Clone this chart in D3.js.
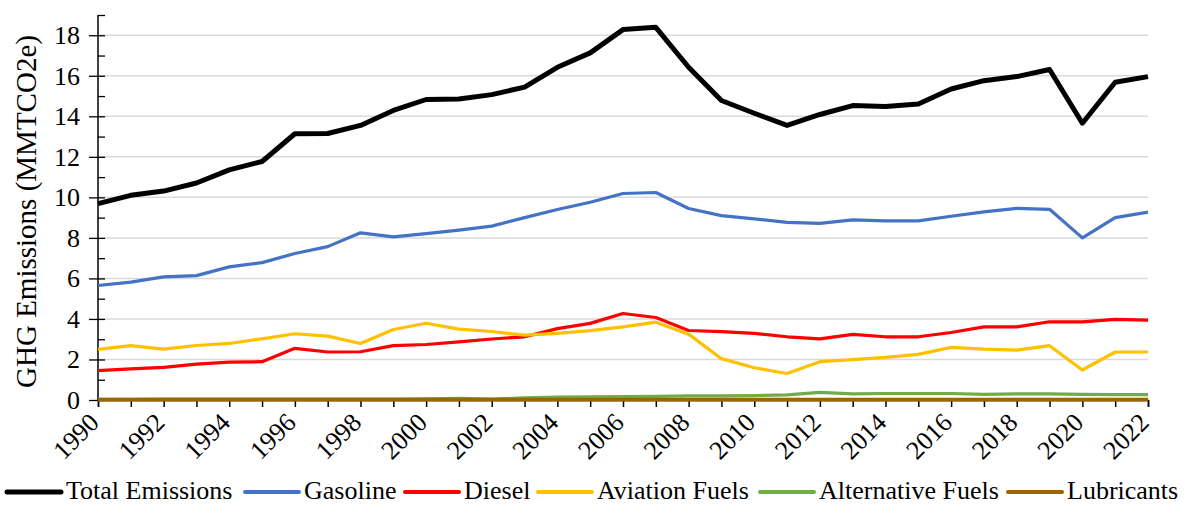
<!DOCTYPE html>
<html>
<head>
<meta charset="utf-8">
<script src="https://cdn.jsdelivr.net/npm/d3@7"></script>
<style>
  body { margin: 0; background: #fff; }
  svg text { font-family: "Liberation Serif", "Times New Roman", serif; fill: #000; }
</style>
</head>
<body>
<svg id="chart" width="1186" height="506"></svg>
<script>
const years = d3.range(1990, 2023);
const yTicks = [0, 2, 4, 6, 8, 10, 12, 14, 16, 18];
const xTickLabels = years.filter(y => y % 2 === 0).map(String);

const totalEmissions = [9.69, 10.10, 10.31, 10.71, 11.36, 11.77, 13.14, 13.15, 13.55, 14.29, 14.83, 14.85, 15.07, 15.44, 16.42, 17.13, 18.28, 18.39, 16.42, 14.78, 14.15, 13.55, 14.09, 14.53, 14.48, 14.61, 15.35, 15.76, 15.96, 16.31, 13.66, 15.68, 15.96];
const gasoline = [5.65, 5.82, 6.08, 6.14, 6.57, 6.78, 7.23, 7.57, 8.25, 8.05, 8.21, 8.38, 8.58, 9.00, 9.40, 9.76, 10.19, 10.24, 9.45, 9.10, 8.94, 8.77, 8.72, 8.89, 8.84, 8.84, 9.07, 9.28, 9.46, 9.41, 8.00, 9.00, 9.27];
const diesel = [1.45, 1.54, 1.61, 1.77, 1.87, 1.89, 2.55, 2.37, 2.38, 2.68, 2.74, 2.87, 3.01, 3.12, 3.52, 3.78, 4.27, 4.07, 3.43, 3.37, 3.29, 3.12, 3.02, 3.24, 3.12, 3.12, 3.33, 3.61, 3.61, 3.86, 3.86, 3.98, 3.94];
const aviationFuels = [2.50, 2.68, 2.51, 2.69, 2.79, 3.02, 3.27, 3.15, 2.79, 3.48, 3.79, 3.50, 3.38, 3.20, 3.29, 3.42, 3.61, 3.84, 3.25, 2.04, 1.59, 1.31, 1.89, 1.99, 2.10, 2.25, 2.60, 2.51, 2.46, 2.68, 1.48, 2.37, 2.37];
const alternativeFuels = [0.03, 0.03, 0.04, 0.04, 0.04, 0.04, 0.04, 0.04, 0.05, 0.05, 0.06, 0.08, 0.05, 0.10, 0.14, 0.15, 0.17, 0.18, 0.20, 0.20, 0.22, 0.25, 0.38, 0.30, 0.32, 0.32, 0.32, 0.28, 0.30, 0.30, 0.28, 0.27, 0.27];
const lubricants = [0.02, 0.02, 0.02, 0.02, 0.02, 0.02, 0.02, 0.02, 0.02, 0.02, 0.02, 0.02, 0.02, 0.02, 0.02, 0.02, 0.02, 0.02, 0.02, 0.02, 0.02, 0.02, 0.02, 0.02, 0.02, 0.02, 0.02, 0.02, 0.02, 0.02, 0.02, 0.02, 0.02];

const seriesNames = ["Total Emissions", "Gasoline", "Diesel", "Aviation Fuels", "Alternative Fuels", "Lubricants"];
const seriesValues = [totalEmissions, gasoline, diesel, aviationFuels, alternativeFuels, lubricants];
const seriesColors = ["#000000", "#4472C4", "#FF0000", "#FFC000", "#70AD47", "#9C6500"];
const seriesWidths = [5, 3.2, 3.2, 3.2, 3.2, 3.6];

const FONT = "'Liberation Serif', 'Times New Roman', serif";
const svg = d3.select("#chart");
const mLeft = 98, mRight = 1148, mTop = 15, mBottom = 400;

const x = d3.scaleLinear().domain([1990, 2022]).range([mLeft, mRight]);
const y = d3.scaleLinear().domain([0, 19]).range([mBottom, mTop]);

// gridlines
svg.append("g").selectAll("line").data(yTicks.filter(d => d > 0)).join("line")
  .attr("x1", mLeft).attr("x2", mRight)
  .attr("y1", d => y(d)).attr("y2", d => y(d))
  .attr("stroke", "#d9d9d9").attr("stroke-width", 1.5);

// y axis: outer major ticks with labels
const yAxis = svg.append("g").attr("transform", `translate(${mLeft},0)`)
  .call(d3.axisLeft(y).tickValues(yTicks).tickSize(9).tickPadding(9).tickFormat(d3.format("d")));
yAxis.attr("font-family", FONT);
yAxis.select(".domain").remove();
yAxis.selectAll("line").attr("stroke", "#000").attr("stroke-width", 1.3);
yAxis.selectAll("text").style("font-size", "26px").style("font-family", FONT);

// y axis inner ticks (all integers)
const yInner = svg.append("g").attr("transform", `translate(${mLeft},0)`)
  .call(d3.axisRight(y).tickValues(d3.range(0, 20)).tickSize(7).tickFormat(""));
yInner.select(".domain").attr("stroke", "#000").attr("stroke-width", 1.5).attr("d", `M0,${y(0)}V${y(19)}`);
yInner.selectAll("line").attr("stroke", "#000").attr("stroke-width", 1.3);

// x axis
const xAxis = svg.append("g").attr("transform", `translate(0,${mBottom})`)
  .call(d3.axisBottom(x).tickValues(years).tickSize(7).tickFormat(d => (d % 2 === 0 ? String(d) : "")));
xAxis.attr("font-family", FONT);
xAxis.select(".domain").attr("stroke", "#000").attr("stroke-width", 1.5);
xAxis.selectAll("line").attr("stroke", "#000").attr("stroke-width", 1.5);
xAxis.selectAll("text")
  .style("font-size", "26px").style("font-family", FONT)
  .attr("text-anchor", "end")
  .attr("y", 0).attr("dy", 0)
  .attr("transform", "translate(2,24) rotate(-45)");

// y title
svg.append("text")
  .attr("transform", `translate(36,${(mTop + mBottom) / 2 + 4}) rotate(-90)`)
  .attr("text-anchor", "middle")
  .style("font-size", "29px").style("font-family", FONT)
  .text("GHG Emissions (MMTCO2e)");

// lines
const line = d3.line().x((d, i) => x(years[i])).y(d => y(d));
seriesValues.forEach((vals, k) => {
  svg.append("path")
    .datum(vals)
    .attr("fill", "none")
    .attr("stroke", seriesColors[k])
    .attr("stroke-width", seriesWidths[k])
    .attr("stroke-linejoin", "round")
    .attr("d", line);
});

// legend
const legendY = 492;
const legendX = [7, 245, 405, 538, 760, 1008];
const leg = svg.append("g");
seriesNames.forEach((name, k) => {
  const g = leg.append("g").attr("transform", `translate(${legendX[k]},${legendY})`);
  g.append("line").attr("x1", 0).attr("x2", 54).attr("y1", 0).attr("y2", 0)
    .attr("stroke", seriesColors[k]).attr("stroke-width", k === 0 ? 5 : 4).attr("stroke-linecap", "round");
  g.append("text").attr("x", 59).attr("y", 7)
    .style("font-size", "26px").style("font-family", FONT).text(name);
});
</script>
</body>
</html>
